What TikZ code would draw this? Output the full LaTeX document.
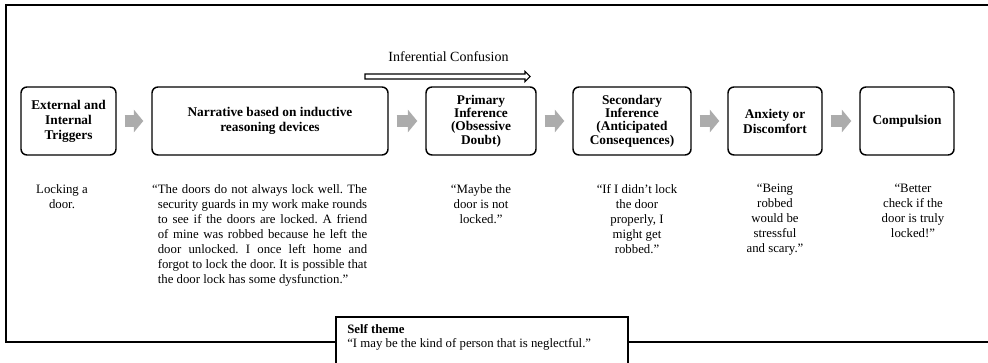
\documentclass[tikz,border=0pt]{standalone}
\usepackage{fontspec}
\setmainfont{Liberation Serif}
\usetikzlibrary{arrows.meta,calc}
\frenchspacing

\newcommand{\diagfont}{\fontsize{9.6}{11.25}\selectfont}
\newcommand{\boxfont}{\fontsize{10}{11.25}\selectfont\bfseries}
\newcommand{\tightfont}{\fontsize{10}{10}\selectfont\bfseries}

\tikzset{
	stage/.style={draw, line width=1.1pt, rounded corners=4.5pt, align=center, font=\boxfont, minimum height=51pt, inner sep=1pt},
	quote/.style={anchor=north, align=center, inner sep=0pt, font=\diagfont},
	blockarr/.style={gray!65, line width=9pt, -{Triangle[length=7pt,width=16.5pt]}},
	frame/.style={line width=1pt},
}

\begin{document}
\begin{tikzpicture}[x=0.75pt, y=-0.75pt]
		\useasboundingbox (0,0) rectangle (988,363);
		% outer frame
		\draw[frame] (988,5) -- (6,5) -- (6,342) -- (336,342);
		\draw[frame] (628,342) -- (988,342);
		% stages
		\node[stage, minimum width=71.25pt] (trig) at (68.5,121) {External and\\Internal\\Triggers};
		\node[stage, minimum width=177pt] (narr) at (270,121) {Narrative based on inductive\\reasoning devices};
		\node[stage, minimum width=82.5pt, font=\tightfont] (prim) at (481,121) {Primary\\Inference\\(Obsessive\\Doubt)};
		\node[stage, minimum width=88.5pt, font=\tightfont] (sec) at (632,121) {Secondary\\Inference\\(Anticipated\\Consequences)};
		\node[stage, minimum width=70.5pt] (anx) at (775,121) {Anxiety or\\Discomfort};
		\node[stage, minimum width=70.5pt] (comp) at (907,121) {Compulsion};
		\foreach \a/\b in {trig/narr, narr/prim, prim/sec, sec/anx, anx/comp}
			\draw[blockarr] ($(\a.east)+(8,0)$) -- ($(\b.west)+(-8,0)$);
		% inferential confusion
		\coordinate (ic1) at (365,76.5);
		\coordinate (ic2) at (530,76.5);
		\draw[line width=0.8pt] ($(ic1)+(0,-2.5)$) -- ($(ic2)+(-5,-2.5)$) -- ($(ic2)+(-5,-5)$) -- (ic2)
			-- ($(ic2)+(-5,5)$) -- ($(ic2)+(-5,2.5)$) -- ($(ic1)+(0,2.5)$) -- cycle;
		\node[font=\fontsize{10.5}{12}\selectfont] (iclabel) at (448.5,57) {Inferential Confusion};
		% examples
		\node[quote] (trigq) at (62,184) {Locking a\\door.};
		\node[quote, text width=157pt, align=justify] (narrq) at (262.5,184) {\llap{“}The doors do not always lock well. The\linebreak security guards in my work make rounds\linebreak to see if the doors are locked. A friend\linebreak of mine was robbed because he left the\linebreak door unlocked. I once left home and\linebreak forgot to lock the door. It is possible that\linebreak the door lock has some dysfunction.”};
		\node[quote] (primq) at (481,184) {“Maybe the\\door is not\\locked.”};
		\node[quote] (secq) at (637,184) {“If I didn’t lock\\the door\\properly, I\\might get\\robbed.”};
		\node[quote] (anxq) at (775,184) {“Being\\robbed\\would be\\stressful\\and scary.”};
		\node[quote] (compq) at (913,184) {“Better\\check if the\\door is truly\\locked!”};
		% self theme
		\draw[frame] (336,363) |- (628,317) -- (628,363);
		\node[anchor=north west, align=left, inner sep=0pt, font=\fontsize{9.6}{10.5}\selectfont] (self) at (347,324) {\textbf{Self theme}\\“I may be the kind of person that is neglectful.”};
\end{tikzpicture}
\end{document}
